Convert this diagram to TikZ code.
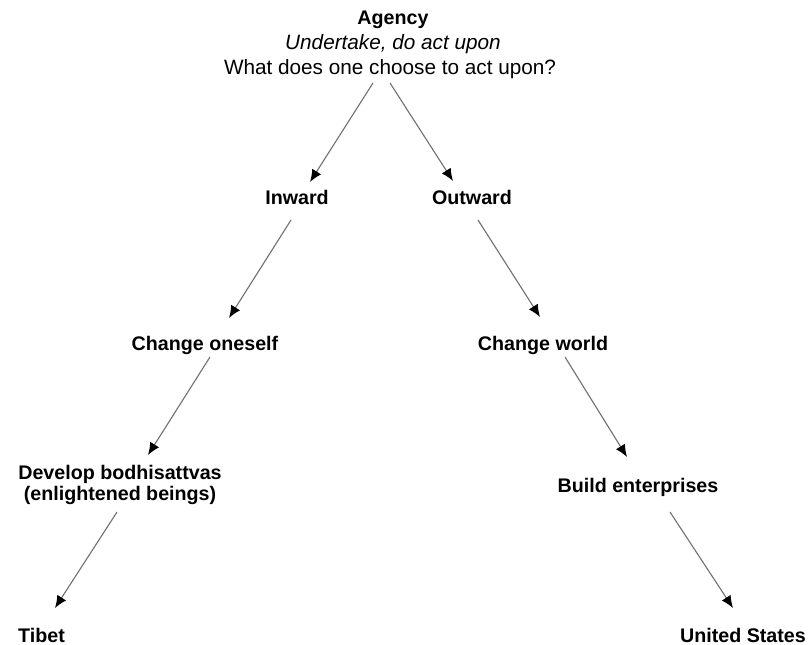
\documentclass[tikz,border=0pt]{standalone}
\usepackage{fontspec}
\setmainfont{Liberation Sans}
\usepackage{tikz}
\usetikzlibrary{arrows.meta}
\tikzstyle{head} = [inner sep=0pt, anchor=base, font=\fontsize{11.8}{14}\selectfont]
\tikzstyle{choice} = [inner sep=0pt, anchor=base, align=center, font=\fontsize{11.2}{11.5}\selectfont\bfseries]
\tikzstyle{arrow} = [draw=black!55, line width=0.65pt, -{Latex[length=7pt, width=6pt, color=black]}]

\begin{document}
\begin{tikzpicture}[x=0.02cm, y=-0.02cm]
  \useasboundingbox (0,0) rectangle (811,645);
  % question at the top
  \node [choice] (agency) at (393,25) {Agency};
  \node [head, font=\fontsize{11.8}{14}\selectfont\itshape] (meaning) at (393,50) {Undertake, do act upon};
  \node [head] (question) at (390,75) {What does one choose to act upon?};
  % two branches
  \node [choice] (inward) at (297,205) {Inward};
  \node [choice] (outward) at (472,205) {Outward};
  \node [choice] (oneself) at (205,350) {Change oneself};
  \node [choice] (world) at (543,350) {Change world};
  \node [choice] (develop) at (120,500) {Develop bodhisattvas\\(enlightened beings)};
  \node [choice] (build) at (638,492) {Build enterprises};
  \node [choice] (tibet) at (41.5,642) {Tibet};
  \node [choice] (usa) at (743,642) {United States};

  \draw [arrow] ([shift={(-17,8)}]question.base) -- ([shift={(13,-23)}]inward.base);
  \draw [arrow] ([shift={(0,8)}]question.base) -- ([shift={(-19,-24)}]outward.base);
  \draw [arrow] ([shift={(-6,15)}]inward.base) -- ([shift={(24,-32)}]oneself.base);
  \draw [arrow] ([shift={(6,15)}]outward.base) -- ([shift={(-3,-33)}]world.base);
  \draw [arrow] ([shift={(5,7)}]oneself.base) -- ([shift={(28,-45)}]develop.base);
  \draw [arrow] ([shift={(22,7)}]world.base) -- ([shift={(-11,-35)}]build.base);
  \draw [arrow] ([shift={(-3,12)}]develop.base) -- ([shift={(13.5,-34)}]tibet.base);
  \draw [arrow] ([shift={(32,20)}]build.base) -- ([shift={(-10,-34)}]usa.base);
\end{tikzpicture}
\end{document}
